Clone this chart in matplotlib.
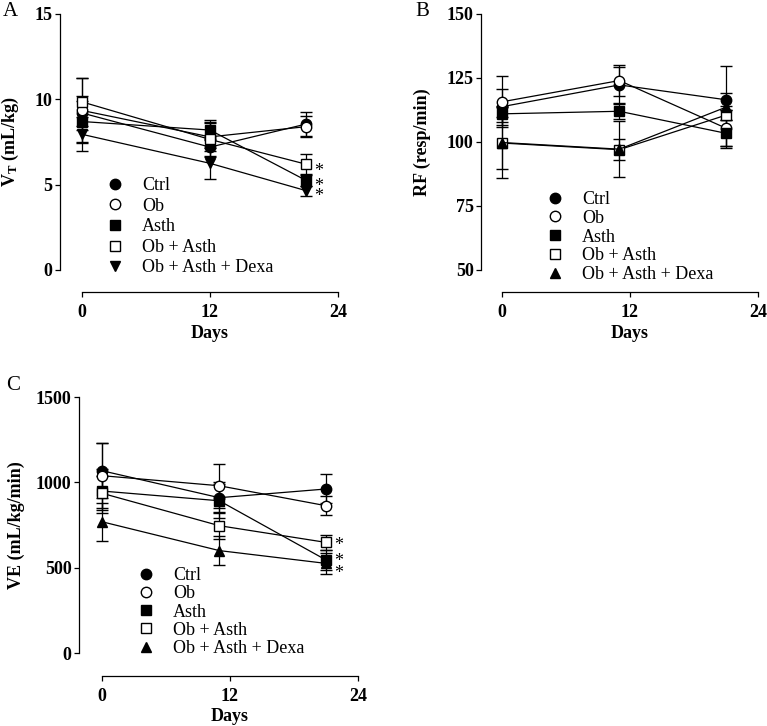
import matplotlib
matplotlib.use("Agg")
import matplotlib.pyplot as plt
from matplotlib.lines import Line2D

plt.rcParams['font.family'] = ['Liberation Serif', 'DejaVu Serif']
plt.rcParams['mathtext.fontset'] = 'custom'
plt.rcParams['mathtext.rm'] = 'Liberation Serif'
plt.rcParams['mathtext.bf'] = 'Liberation Serif:bold'

groups = ["Ctrl", "Ob", "Asth", "Ob + Asth", "Ob + Asth + Dexa"]

# Panel A: tidal volume (mL/kg)
days_A = [0, 12, 21]
vt_mean = {
    "Ctrl": [9.2, 7.2, 8.55],
    "Ob": [9.35, 7.8, 8.4],
    "Asth": [8.7, 8.2, 5.25],
    "Ob + Asth": [9.85, 7.65, 6.2],
    "Ob + Asth + Dexa": [7.95, 6.25, 4.65],
}
vt_err = {
    "Ctrl": [1.0, 0.5, 0.7],
    "Ob": [1.9, 0.8, 0.6],
    "Asth": [1.2, 0.6, 0.3],
    "Ob + Asth": [1.4, 1.0, 0.6],
    "Ob + Asth + Dexa": [1.0, 0.9, 0.3],
}

# Panel B: respiratory frequency (resp/min)
days_B = [0, 11, 21]
rf_mean = {
    "Ctrl": [113.8, 122.3, 116.5],
    "Ob": [115.7, 124.0, 105.4],
    "Asth": [111.0, 112.0, 103.4],
    "Ob + Asth": [99.6, 97.0, 110.5],
    "Ob + Asth + Dexa": [99.8, 97.2, 113.6],
}
rf_err = {
    "Ctrl": [7, 7, 2.5],
    "Ob": [10, 6, 7],
    "Asth": [3, 3, 5],
    "Ob + Asth": [10, 4, 2],
    "Ob + Asth + Dexa": [14, 11, 16],
}

# Panel C: minute ventilation (mL/kg/min)
days_C = [0, 11, 21]
ve_mean = {
    "Ctrl": [1068, 910, 961],
    "Ob": [1039, 980, 863],
    "Asth": [949, 892, 545],
    "Ob + Asth": [936, 746, 648],
    "Ob + Asth + Dexa": [769, 600, 525],
}
ve_err = {
    "Ctrl": [160, 90, 85],
    "Ob": [190, 130, 55],
    "Asth": [130, 100, 60],
    "Ob + Asth": [100, 80, 45],
    "Ob + Asth + Dexa": [110, 85, 60],
}

starred = ["Ob + Asth", "Asth", "Ob + Asth + Dexa"]
# vertical offsets of the significance stars, in points
star_off_A = {"Ob + Asth": -5.0, "Asth": -4.5, "Ob + Asth + Dexa": -4.5}
star_off_C = {"Ob + Asth": -2.5, "Asth": -1.0, "Ob + Asth + Dexa": -7.5}

W, H = 767, 726
fig = plt.figure(figsize=(W / 100, H / 100), dpi=100)


def px_axes(x0, x1, ytop, ybot):
    return fig.add_axes([x0 / W, 1 - ybot / H, (x1 - x0) / W, (ybot - ytop) / H])


def style(g, tri):
    filled = g in ("Ctrl", "Asth", "Ob + Asth + Dexa")
    marker = {"Ctrl": "o", "Ob": "o", "Asth": "s", "Ob + Asth": "s",
              "Ob + Asth + Dexa": tri}[g]
    ms = 7.5 if marker == "o" else (7 if marker == "s" else 7.5)
    return dict(marker=marker, markersize=ms, markeredgecolor="black",
                markerfacecolor="black" if filled else "white",
                markeredgewidth=1.0)


def panel(ax, days, means, errs, ylim, yticks, ylabel, tri, left_off, bot_off,
          ylab_x, leg_xy, leg_sp, stars=None, offs=None):
    for g in groups:
        st = style(g, tri)
        ax.errorbar(days, means[g], yerr=errs[g], color="black", lw=0.9,
                    elinewidth=0.9, capsize=4, capthick=0.9, clip_on=False,
                    zorder=3, **st)
    ax.set_xlim(0, 24)
    ax.set_ylim(*ylim)
    ax.set_xticks([0, 12, 24])
    ax.set_yticks(yticks)
    for s in ("top", "right"):
        ax.spines[s].set_visible(False)
    ax.spines["left"].set_position(("outward", left_off * 0.72))
    ax.spines["bottom"].set_position(("outward", bot_off * 0.72))
    ax.spines["left"].set_bounds(*ylim)
    ax.spines["bottom"].set_bounds(0, 24)
    for s in ("left", "bottom"):
        ax.spines[s].set_linewidth(0.9)
    ax.tick_params(axis="both", length=3.8, width=0.9, labelsize=13)
    ax.tick_params(axis="y", pad=1.5)
    ax.tick_params(axis="x", pad=4.5)
    for lab in ax.get_xticklabels() + ax.get_yticklabels():
        lab.set_fontweight("bold")
    ax.set_ylabel(ylabel, fontsize=13, fontweight="bold")
    ax.yaxis.set_label_coords(ylab_x, 0.5)
    ax.set_xlabel("Days", fontsize=13, fontweight="bold")
    ax.xaxis.set_label_coords(0.5, -0.215)
    handles = [Line2D([], [], linestyle="none", **style(g, tri)) for g in groups]
    ax.legend(handles, groups, loc="upper left", frameon=False, fontsize=13,
              handlelength=1.0, handletextpad=1.0, labelspacing=leg_sp,
              borderpad=0, borderaxespad=0,
              bbox_to_anchor=(leg_xy[0] / W, 1 - leg_xy[1] / H),
              bbox_transform=fig.transFigure)
    if stars:
        for g in stars:
            ax.annotate("*", xy=(days[-1], means[g][-1]), xytext=(9, offs[g]),
                        textcoords="offset points", fontsize=13,
                        ha="center", va="center", annotation_clip=False)


axA = px_axes(82, 338, 14, 270)
panel(axA, days_A, vt_mean, vt_err, (0, 15), [0, 5, 10, 15],
      r"$\mathbf{V_T}$ (mL/kg)", "v", 22, 22, -0.238, (106, 177), 0.2,
      stars=starred, offs=star_off_A)

axB = px_axes(502, 758, 14, 270)
panel(axB, days_B, rf_mean, rf_err, (50, 150), [50, 75, 100, 125, 150],
      "RF (resp/min)", "^", 21, 22, -0.277, (546, 191), 0.1)

axC = px_axes(102, 358, 397, 653)
panel(axC, days_C, ve_mean, ve_err, (0, 1500), [0, 500, 1000, 1500],
      "VE (mL/kg/min)", "^", 23, 23, -0.3, (137, 567), 0.07,
      stars=starred, offs=star_off_C)

fig.text(3 / W, 1 - 2 / H, "A", fontsize=15, ha="left", va="top")
fig.text(415 / W, 1 - 2 / H, "B", fontsize=15, ha="left", va="top")
fig.text(6 / W, 1 - 376 / H, "C", fontsize=15, ha="left", va="top")

fig.savefig("out.png", dpi=100)
